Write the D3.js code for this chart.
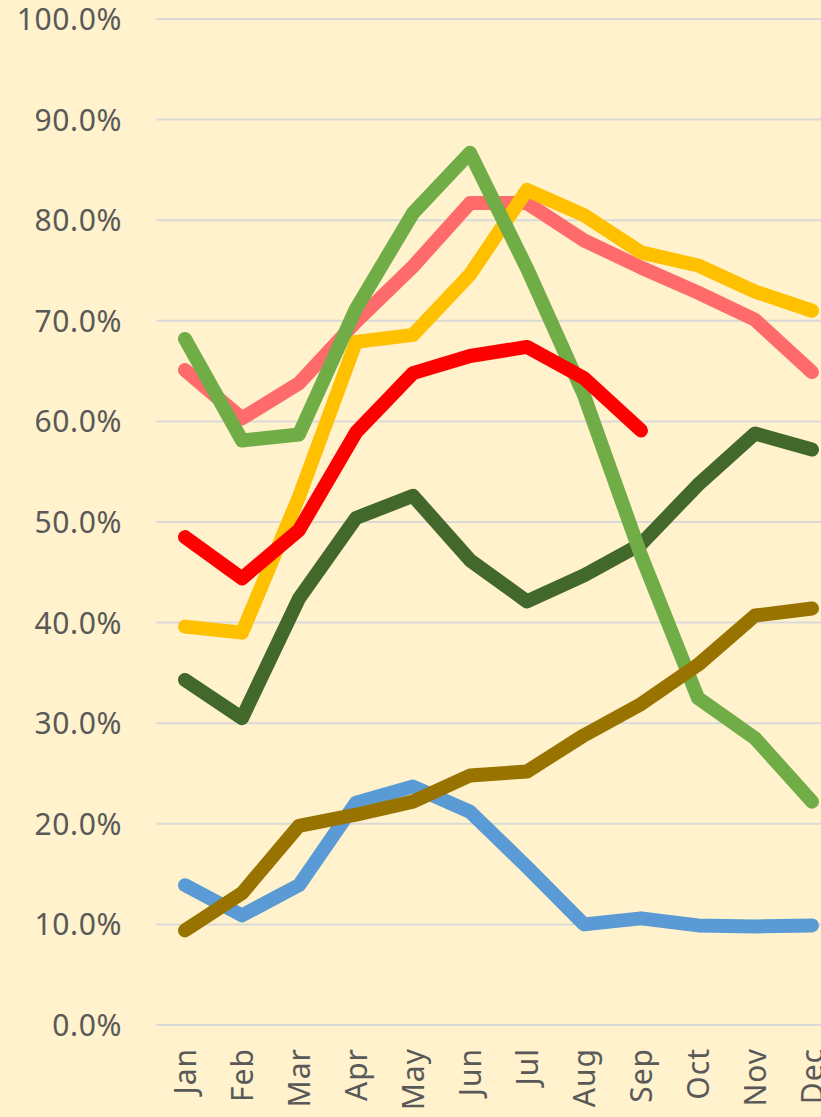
<!DOCTYPE html>
<html>
<head>
<meta charset="utf-8">
<script src="https://cdn.jsdelivr.net/npm/d3@7"></script>
<style>
  html, body { margin: 0; padding: 0; background: #FFF2CC; overflow: hidden; }
  svg { display: block; }
</style>
</head>
<body>
<svg id="chart" width="821" height="1117"></svg>
<script>
const months = ["Jan","Feb","Mar","Apr","May","Jun","Jul","Aug","Sep","Oct","Nov","Dec"];
const yTicks = [0, 10, 20, 30, 40, 50, 60, 70, 80, 90, 100];

const blueSeries      = [13.9, 10.9, 13.9, 22.1, 23.7, 21.2, 15.7, 10.0, 10.6, 9.9, 9.8, 9.9];
const salmonSeries    = [65.1, 60.3, 63.8, 69.9, 75.4, 81.7, 81.7, 78.0, 75.3, 72.8, 70.1, 64.9];
const yellowSeries    = [39.6, 39.0, 52.5, 67.9, 68.6, 74.6, 83.0, 80.5, 76.8, 75.5, 72.9, 71.0];
const darkGreenSeries = [34.3, 30.5, 42.4, 50.4, 52.6, 46.2, 42.1, 44.7, 47.8, 53.7, 58.8, 57.2];
const greenSeries     = [68.2, 58.1, 58.7, 71.2, 80.7, 86.7, 75.2, 62.6, 46.7, 32.5, 28.5, 22.2];
const redSeries       = [48.5, 44.4, 49.2, 58.9, 64.8, 66.5, 67.4, 64.3, 59.1, null, null, null];
const brownSeries     = [9.4, 13.1, 19.8, 20.9, 22.2, 24.8, 25.2, 28.8, 31.9, 35.8, 40.7, 41.4];

const series = [
  { values: blueSeries,      color: "#5B9BD5" },
  { values: salmonSeries,    color: "#FF6B6B" },
  { values: yellowSeries,    color: "#FFC000" },
  { values: darkGreenSeries, color: "#43682B" },
  { values: greenSeries,     color: "#70AD47" },
  { values: redSeries,       color: "#FF0000" },
  { values: brownSeries,     color: "#997300" }
];

const svg = d3.select("#chart");
const x = d3.scaleBand().domain(months).range([156.5, 840.5]);
const y = d3.scaleLinear().domain([0, 100]).range([1025, 19]);
const font = "'Noto Sans', 'Open Sans', sans-serif";

// gridlines
svg.append("g").selectAll("line").data(yTicks).join("line")
  .attr("x1", 156.5).attr("x2", 840.5)
  .attr("y1", d => y(d)).attr("y2", d => y(d))
  .attr("stroke", "#D9D9D9").attr("stroke-width", 2);

// y axis labels
const yAxis = d3.axisLeft(y).tickValues(yTicks).tickSize(0).tickPadding(0)
  .tickFormat(d => d.toFixed(1) + "%");
const gy = svg.append("g").attr("transform", "translate(122,0)").call(yAxis);
gy.select(".domain").remove();
gy.selectAll("text").attr("font-family", font).attr("font-size", 30)
  .attr("letter-spacing", "0.6px")
  .attr("fill", "#595959").attr("dy", "0.35em");

// x axis labels
const xAxis = d3.axisBottom(x).tickSize(0).tickPadding(0);
const gx = svg.append("g").attr("transform", "translate(0,1048)").call(xAxis);
gx.select(".domain").remove();
gx.selectAll("text").attr("font-family", font).attr("font-size", 30)
  .attr("letter-spacing", "1px")
  .attr("fill", "#595959")
  .attr("text-anchor", "end")
  .attr("transform", "rotate(-90)")
  .attr("x", 0).attr("y", 0).attr("dy", "0.35em");

// lines
const line = d3.line()
  .defined(d => d != null)
  .x((d, i) => x(months[i]) + x.bandwidth() / 2)
  .y(d => y(d));

svg.append("g").selectAll("path").data(series).join("path")
  .attr("d", s => line(s.values))
  .attr("fill", "none")
  .attr("stroke", s => s.color)
  .attr("stroke-width", 14)
  .attr("stroke-linejoin", "round")
  .attr("stroke-linecap", "round");
</script>
</body>
</html>
